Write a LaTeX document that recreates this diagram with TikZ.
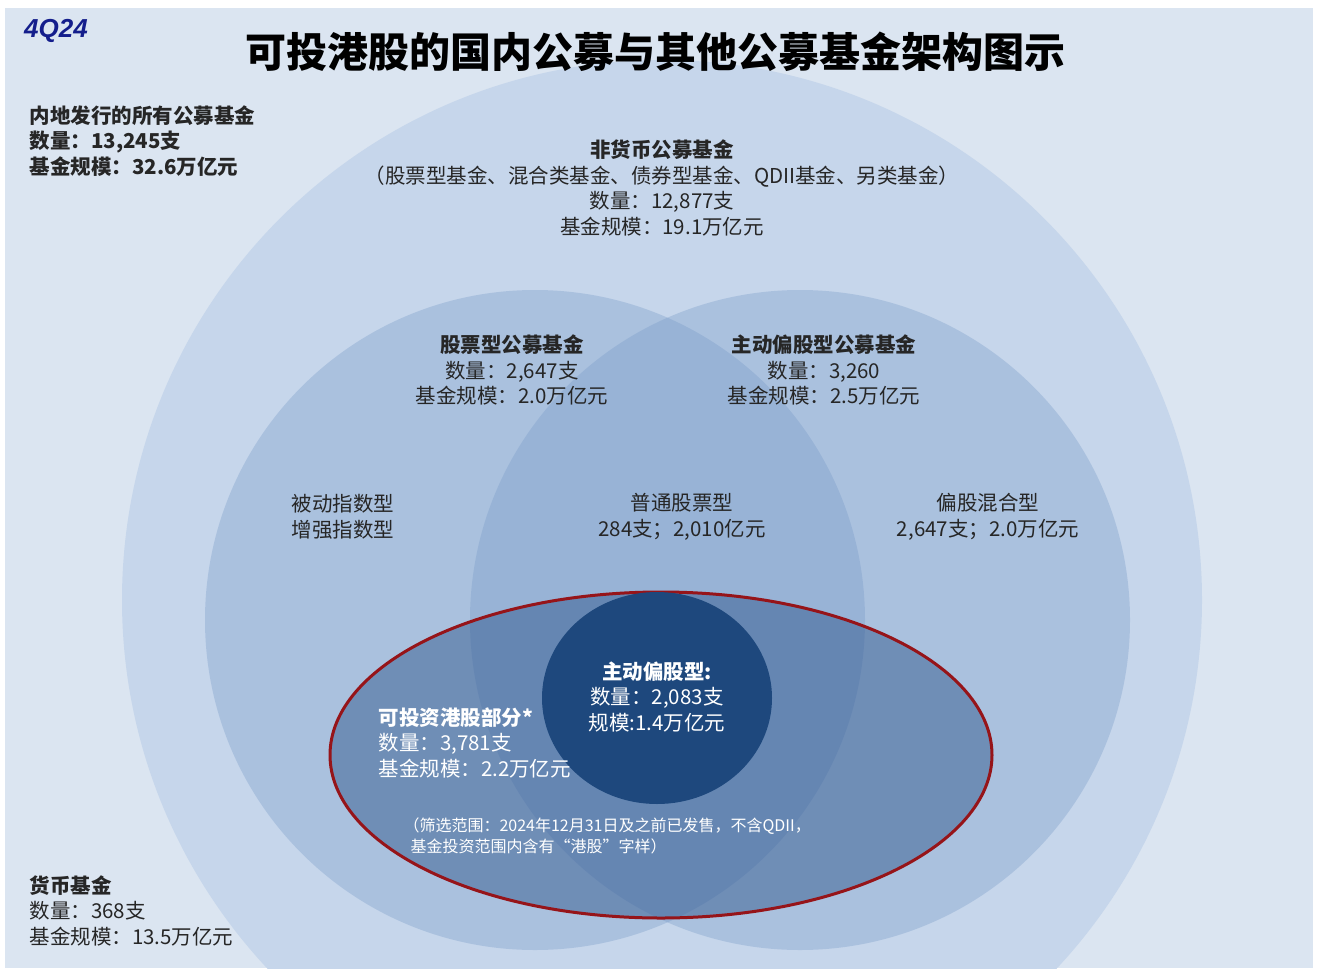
\documentclass[tikz,border=0pt]{standalone}
\usepackage{fontspec}
\setmainfont{Liberation Sans}
\newfontfamily\cjk{Noto Sans CJK SC}
\begin{document}
\begin{tikzpicture}[x=1pt,y=-1pt,
  lab/.style={font=\cjk\fontsize{20.5}{25.5}\selectfont,align=center,text=black!85}]
\useasboundingbox (0,0) rectangle (1317,972);
\fill[white] (0,0) rectangle (1317,972);
\fill[fill={rgb,255:red,219;green,229;blue,241}] (5,8) rectangle (1313,968);
\begin{scope}
\clip (5,8) rectangle (1313,968);
\fill[fill={rgb,255:red,198;green,214;blue,235}] (662,600) circle (540);
\fill[fill={rgb,255:red,120;green,155;blue,200},fill opacity=0.35] (535,620) circle (330);
\fill[fill={rgb,255:red,120;green,155;blue,200},fill opacity=0.35] (800,620) circle (330);
\fill[fill={rgb,255:red,40;green,80;blue,135},fill opacity=0.45] (661,755) ellipse (331 and 163);
\draw[draw={rgb,255:red,150;green,20;blue,25},line width=3pt] (661,755) ellipse (331 and 163);
\fill[fill={rgb,255:red,30;green,72;blue,125}] (657,698) ellipse (115 and 106);
\end{scope}
\node[font=\bfseries\itshape\fontsize{26}{28}\selectfont,text={rgb,255:red,20;green,30;blue,140}] (q) at (56,31) {4Q24};
\node[font=\cjk\bfseries\fontsize{41}{46}\selectfont] (t) at (655,52) {可投港股的国内公募与其他公募基金架构图示};
\node[lab,align=left,anchor=north west] (all) at (26,102) {\bfseries 内地发行的所有公募基金\\ \bfseries 数量：13,245支\\ \bfseries 基金规模：32.6万亿元};
\node[lab] (nm) at (662,188) {\bfseries 非货币公募基金\\（股票型基金、混合类基金、债券型基金、QDII基金、另类基金）\\数量：12,877支\\基金规模：19.1万亿元};
\node[lab] (eq) at (512,370) {\bfseries 股票型公募基金\\数量：2,647支\\基金规模：2.0万亿元};
\node[lab] (ac) at (824,370) {\bfseries 主动偏股型公募基金\\数量：3,260\\基金规模：2.5万亿元};
\node[lab,align=left] (pa) at (343,517) {被动指数型\\增强指数型};
\node[lab] (pt) at (682,517) {普通股票型\\284支；2,010亿元};
\node[lab] (mx) at (988,517) {偏股混合型\\2,647支；2.0万亿元};
\node[lab,text=white] (dk) at (657,697) {\bfseries 主动偏股型:\\数量：2,083支\\规模:1.4万亿元};
\node[lab,align=left,text=white,anchor=north west] (hk) at (375,704) {\bfseries 可投资港股部分*\\数量：3,781支\\基金规模：2.2万亿元};
\node[font=\cjk\fontsize{16}{21}\selectfont,align=left,text=white,anchor=north west] (nt) at (400,814) {（筛选范围：2024年12月31日及之前已发售，不含QDII，\\\ \ 基金投资范围内含有“港股”字样）};
\node[lab,align=left,anchor=north west] (mm) at (26,872) {\bfseries 货币基金\\数量：368支\\基金规模：13.5万亿元};
\end{tikzpicture}
\end{document}
